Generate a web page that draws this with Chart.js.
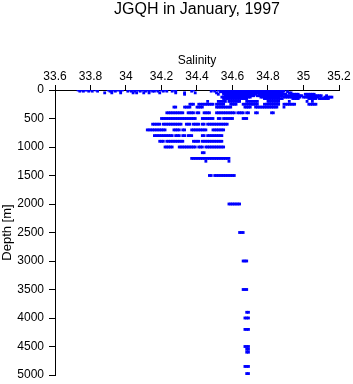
<!DOCTYPE html>
<html>
<head>
<meta charset="utf-8">
<script src="https://cdn.jsdelivr.net/npm/chart.js@4/dist/chart.umd.min.js"></script>
<style>
    html, body { margin: 0; padding: 0; background: #fff; }
    canvas { display: block; }
</style>
</head>
<body>
<canvas id="chart" width="353" height="384"></canvas>
<script>
(function () {
    'use strict';

    var TITLE = 'JGQH in January, 1997';
    var X_LABEL = 'Salinity';
    var Y_LABEL = 'Depth [m]';

    var xTicks = [33.6, 33.8, 34, 34.2, 34.4, 34.6, 34.8, 35, 35.2];
    var yTicks = [0, 500, 1000, 1500, 2000, 2500, 3000, 3500, 4000, 4500, 5000];

    // sample depths (m), one row of salinity readings per depth
    var depthLevels = [0, 10, 20, 30, 50, 75, 100, 125, 150, 200, 250, 300, 400, 500, 600, 700, 800, 900, 1000, 1100, 1200, 1250, 1500,
        2000, 2500, 3000, 3500, 3900, 4000, 4200, 4500, 4550, 4600, 4850, 4975];

    var salinityRows = [
        // 0 m
        [33.73, 33.74, 33.75, 33.77, 33.78, 33.80, 33.83, 33.90, 33.91, 33.93, 33.95, 33.96, 33.98, 34.02, 34.03, 34.04, 34.06, 34.07, 34.09,
            34.10, 34.12, 34.14, 34.17, 34.20, 34.22, 34.27, 34.38, 34.49, 34.52,
            34.56, 34.57, 34.58, 34.59, 34.60, 34.61, 34.62, 34.64, 34.65, 34.66, 34.67, 34.68, 34.69, 34.70, 34.72, 34.74, 34.75, 34.76,
            34.77, 34.78, 34.79, 34.80, 34.82, 34.83, 34.84, 34.85, 34.86],
        // 10 m
        [34.55, 34.57, 34.58, 34.59, 34.60, 34.61, 34.62, 34.63, 34.65, 34.66, 34.67, 34.68, 34.69, 34.70, 34.71, 34.73, 34.74, 34.75,
            34.76, 34.77, 34.78, 34.79, 34.81, 34.82, 34.83, 34.84, 34.85, 34.86, 34.87, 34.88],
        // 20 m
        [33.74, 33.76, 33.79, 33.81, 33.84, 33.91, 33.92, 33.94, 33.97, 34.01, 34.03, 34.05, 34.08, 34.11, 34.13, 34.15, 34.16, 34.18,
            34.21, 34.23, 34.26, 34.28, 34.37, 34.48, 34.50,
            34.54, 34.56, 34.57, 34.58, 34.59, 34.60, 34.61, 34.62, 34.63, 34.64, 34.65, 34.66, 34.68, 34.69, 34.70, 34.71, 34.72, 34.73,
            34.74, 34.75, 34.77, 34.78, 34.79, 34.80, 34.81, 34.82, 34.83, 34.84, 34.85, 34.86, 34.89],
        // 30 m
        [34.53, 34.54, 34.55, 34.56, 34.57, 34.58, 34.59, 34.60, 34.62, 34.63, 34.64, 34.65, 34.66, 34.67, 34.68, 34.69, 34.70, 34.74,
            34.75, 34.76, 34.77, 34.78, 34.79, 34.80, 34.81, 34.82, 34.83, 34.84, 34.85, 34.86, 34.87, 34.88, 34.91],
        // 50 m
        [33.88, 33.92, 33.97, 34.04, 34.06, 34.10, 34.13, 34.19, 34.28, 34.33, 34.39, 34.51,
            34.55, 34.56, 34.57, 34.58, 34.59, 34.60, 34.61, 34.62, 34.63, 34.64, 34.66, 34.67, 34.68, 34.69, 34.70, 34.71, 34.72, 34.73,
            34.74, 34.75, 34.76, 34.77, 34.78, 34.79, 34.80, 34.81, 34.82, 34.83, 34.84, 34.85, 34.86, 34.88, 34.92, 34.93],
        // 75 m
        [34.33, 34.52, 34.55, 34.56, 34.57, 34.58, 34.59, 34.60, 34.61, 34.62, 34.63, 34.64, 34.65, 34.66, 34.67, 34.68, 34.69, 34.70,
            34.71, 34.72, 34.73, 34.75, 34.76, 34.77, 34.78, 34.79, 34.80, 34.81, 34.82, 34.83, 34.84, 34.85, 34.86, 34.87, 34.88, 34.89,
            34.90, 34.93, 34.94, 34.95, 34.96, 34.97, 35.01, 35.02, 35.03, 35.04, 35.05, 35.06],
        // 100 m
        [34.56, 34.57, 34.58, 34.59, 34.60, 34.61, 34.62, 34.63, 34.64, 34.65, 34.66, 34.67, 34.68, 34.69, 34.70, 34.71, 34.72, 34.74,
            34.75, 34.76, 34.77, 34.78, 34.79, 34.80, 34.81, 34.82, 34.83, 34.84, 34.85, 34.86, 34.87, 34.88, 34.90, 34.91, 34.92, 34.93,
            34.94, 34.95, 34.96, 34.97, 34.98, 34.99, 35.02, 35.03, 35.04, 35.05, 35.06, 35.07, 35.08, 35.09, 35.10, 35.13],
        // 125 m
        [34.54, 34.55, 34.56, 34.57, 34.58, 34.59, 34.60, 34.61, 34.62, 34.63, 34.64, 34.65, 34.66, 34.67, 34.68, 34.69, 34.70, 34.76,
            34.77, 34.78, 34.79, 34.80, 34.81, 34.82, 34.83, 34.84, 34.85, 34.86, 34.89, 34.90, 34.91, 34.92, 34.93, 34.94, 34.95, 34.96,
            34.97, 34.98, 35.00, 35.01, 35.02, 35.03, 35.04, 35.05, 35.06, 35.07, 35.08, 35.12, 35.13, 35.14, 35.15, 35.16],
        // 150 m
        [34.55, 34.56, 34.57, 34.58, 34.59, 34.60, 34.61, 34.62, 34.63, 34.64, 34.65, 34.66, 34.67, 34.68, 34.78, 34.79, 34.80, 34.81,
            34.82, 34.83, 34.84, 34.85, 34.86, 34.87, 34.88, 34.94, 34.95, 34.96, 34.97, 35.03, 35.04, 35.05, 35.06, 35.07, 35.09, 35.10,
            35.11, 35.12, 35.13, 35.14],
        // 200 m
        [34.46, 34.52, 34.53, 34.54, 34.55, 34.56, 34.58, 34.59, 34.60, 34.61, 34.62, 34.63, 34.64, 34.68, 34.69, 34.70, 34.71, 34.72,
            34.73, 34.74, 34.80, 34.81, 34.82, 34.83, 34.84, 34.85, 34.86, 34.92, 35.02, 35.05],
        // 250 m
        [34.36, 34.37, 34.38, 34.41, 34.42, 34.43, 34.44, 34.45, 34.46, 34.47, 34.48, 34.49, 34.51, 34.52, 34.53, 34.54, 34.55, 34.59,
            34.60, 34.61, 34.62, 34.66, 34.67, 34.68, 34.69, 34.70, 34.71, 34.72, 34.73, 34.74, 34.78, 34.79, 34.80, 34.81, 34.82, 34.83,
            34.84, 34.85, 34.86, 34.89, 34.90, 34.91, 34.92, 34.93, 34.94, 34.95, 35.03, 35.04, 35.05, 35.06, 35.07],
        // 300 m
        [34.27, 34.28, 34.33, 34.34, 34.35, 34.36, 34.40, 34.41, 34.42, 34.43, 34.51, 34.52, 34.53, 34.54, 34.55, 34.56, 34.57, 34.58,
            34.59, 34.67, 34.68, 34.69, 34.70, 34.73, 34.74, 34.75, 34.76, 34.77, 34.78, 34.79, 34.80, 34.81, 34.82, 34.83, 34.84, 34.85,
            34.89],
        // 400 m
        [34.23, 34.24, 34.25, 34.26, 34.27, 34.28, 34.29, 34.30, 34.31, 34.32, 34.35, 34.36, 34.37, 34.38, 34.40, 34.41, 34.44, 34.45,
            34.46, 34.47, 34.51, 34.52, 34.53, 34.54, 34.55, 34.56, 34.57, 34.58, 34.59, 34.60, 34.61, 34.63, 34.64, 34.65, 34.66, 34.68,
            34.69, 34.73, 34.74, 34.82, 34.83],
        // 500 m
        [34.20, 34.21, 34.22, 34.23, 34.24, 34.25, 34.26, 34.27, 34.28, 34.29, 34.30, 34.31, 34.32, 34.33, 34.34, 34.35, 34.36, 34.37,
            34.38, 34.39, 34.43, 34.44, 34.45, 34.46, 34.47, 34.48, 34.49, 34.52, 34.53, 34.55, 34.56, 34.57, 34.58, 34.59, 34.60, 34.66,
            34.67, 34.68],
        // 600 m
        [34.15, 34.16, 34.17, 34.18, 34.19, 34.21, 34.22, 34.23, 34.24, 34.25, 34.26, 34.27, 34.28, 34.29, 34.30, 34.31, 34.34, 34.35,
            34.36, 34.38, 34.39, 34.40, 34.41, 34.43, 34.44, 34.46, 34.47, 34.48, 34.49, 34.50, 34.51, 34.52, 34.53, 34.54, 34.55, 34.56,
            34.57],
        // 700 m
        [34.12, 34.13, 34.14, 34.15, 34.16, 34.17, 34.18, 34.19, 34.20, 34.21, 34.22, 34.27, 34.28, 34.29, 34.30, 34.32, 34.33, 34.37,
            34.38, 34.39, 34.40, 34.41, 34.42, 34.43, 34.44, 34.45, 34.49, 34.50, 34.51, 34.52, 34.53, 34.54, 34.55],
        // 800 m
        [34.16, 34.17, 34.18, 34.19, 34.20, 34.21, 34.22, 34.23, 34.24, 34.25, 34.26, 34.28, 34.29, 34.30, 34.32, 34.33, 34.35, 34.36,
            34.37, 34.43, 34.44, 34.46, 34.47, 34.48, 34.49, 34.50, 34.51, 34.52, 34.53, 34.54],
        // 900 m
        [34.19, 34.20, 34.21, 34.23, 34.24, 34.25, 34.26, 34.27, 34.28, 34.29, 34.30, 34.31, 34.32, 34.38, 34.39, 34.40, 34.41, 34.43,
            34.44, 34.45, 34.46, 34.47, 34.48, 34.49, 34.50, 34.51, 34.52, 34.53, 34.54],
        // 1000 m
        [34.22, 34.23, 34.24, 34.25, 34.26, 34.30, 34.31, 34.32, 34.33, 34.34, 34.35, 34.36, 34.37, 34.38, 34.39, 34.41, 34.42, 34.43,
            34.45, 34.46, 34.47, 34.48, 34.49, 34.50, 34.51, 34.52, 34.53, 34.54, 34.55],
        // 1100 m
        [34.43, 34.44],
        // 1200 m
        [34.37, 34.38, 34.39, 34.40, 34.41, 34.42, 34.43, 34.44, 34.45, 34.46, 34.47, 34.48, 34.49, 34.50, 34.51, 34.52, 34.53, 34.54,
            34.55, 34.56, 34.57, 34.58],
        // 1250 m
        [34.45, 34.58],
        // 1500 m
        [34.47, 34.48, 34.50, 34.51, 34.52, 34.53, 34.54, 34.55, 34.56, 34.57, 34.58, 34.59, 34.60, 34.61],
        // 2000 m and deeper
        [34.58, 34.59, 34.60, 34.61, 34.62, 34.63, 34.64],
        [34.64, 34.65, 34.66],
        [34.66, 34.67, 34.68],
        [34.66, 34.67, 34.68],
        [34.68, 34.69],
        [34.67, 34.68, 34.69],
        [34.67, 34.68, 34.69],
        [34.67, 34.68, 34.69],
        [34.68, 34.69],
        [34.68, 34.69],
        [34.67, 34.68, 34.69],
        [34.68, 34.69]
    ];

    var FONT = '"Liberation Sans", Arial, Helvetica, sans-serif';

    function buildPoints() {
        var pts = [];
        for (var i = 0; i < depthLevels.length; i++) {
            var row = salinityRows[i] || [];
            for (var j = 0; j < row.length; j++) {
                pts.push({ x: row[j], y: depthLevels[i] });
            }
        }
        return pts;
    }

    function fixedTicks(values) {
        return function (scale) {
            scale.ticks = values.map(function (v) { return { value: v }; });
        };
    }

    // main title sits over the plot area, not the whole canvas
    var plotTitle = {
        id: 'plotTitle',
        afterDraw: function (chart) {
            var ctx = chart.ctx;
            var area = chart.chartArea;
            ctx.save();
            ctx.fillStyle = '#000';
            ctx.font = '16px ' + FONT;
            ctx.textAlign = 'center';
            ctx.textBaseline = 'middle';
            ctx.fillText(TITLE, (area.left + area.right) / 2, 10);
            ctx.restore();
        }
    };

    new Chart(document.getElementById('chart'), {
        type: 'scatter',
        data: {
            datasets: [{
                data: buildPoints(),
                backgroundColor: '#0000ff',
                borderColor: '#0000ff',
                pointStyle: 'rect',
                pointRadius: 2,
                pointBorderWidth: 0,
                pointHoverRadius: 2
            }]
        },
        options: {
            responsive: false,
            animation: false,
            layout: { padding: { top: 38, right: 14, bottom: 9, left: 0 } },
            plugins: {
                legend: { display: false },
                tooltip: { enabled: false }
            },
            scales: {
                x: {
                    type: 'linear',
                    position: 'top',
                    min: 33.6,
                    max: 35.2,
                    afterBuildTicks: fixedTicks(xTicks),
                    afterFit: function (s) {
                        s.height = 52;
                        s.paddingLeft = 0;
                        s.paddingRight = 0;
                    },
                    grid: { drawOnChartArea: false, tickLength: 5, color: '#000' },
                    border: { color: '#000', width: 1 },
                    ticks: {
                        color: '#000',
                        padding: 1,
                        maxRotation: 0,
                        autoSkip: false,
                        font: { family: FONT, size: 12 },
                        callback: function (v) { return String(+Number(v).toFixed(1)); }
                    },
                    title: {
                        display: true,
                        text: X_LABEL,
                        color: '#000',
                        font: { family: FONT, size: 12 },
                        padding: { top: 15, bottom: 0 }
                    }
                },
                y: {
                    type: 'linear',
                    position: 'left',
                    reverse: true,
                    min: 0,
                    max: 5000,
                    afterBuildTicks: fixedTicks(yTicks),
                    afterFit: function (s) {
                        s.width = 55;
                        s.paddingTop = 0;
                        s.paddingBottom = 0;
                    },
                    grid: { drawOnChartArea: false, tickLength: 6, color: '#000' },
                    border: { color: '#000', width: 1 },
                    ticks: {
                        color: '#000',
                        padding: 5,
                        autoSkip: false,
                        font: { family: FONT, size: 12 },
                        callback: function (v) { return String(v); }
                    },
                    title: {
                        display: true,
                        text: Y_LABEL,
                        color: '#000',
                        font: { family: FONT, size: 13 },
                        padding: { top: 0, bottom: 0 }
                    }
                }
            }
        },
        plugins: [plotTitle]
    });
})();
</script>
</body>
</html>
